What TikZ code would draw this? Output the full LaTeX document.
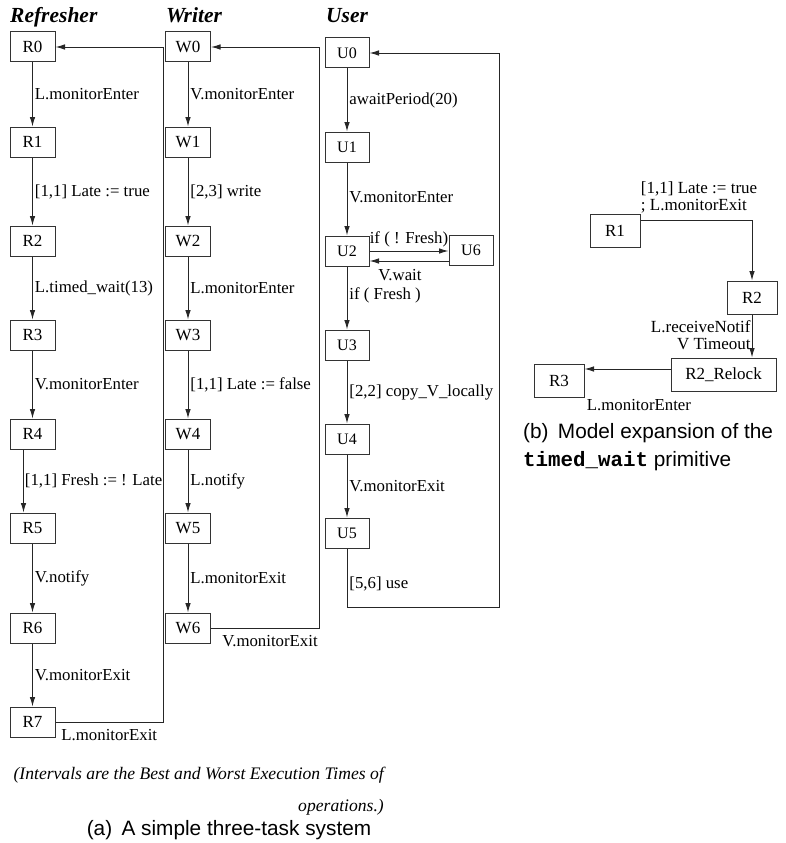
\documentclass[tikz,border=0pt]{standalone}
\usepackage{fontspec}
\setmainfont{Liberation Serif}
\setsansfont{Liberation Sans}
\setmonofont{Liberation Mono}
\usetikzlibrary{arrows.meta,calc}

\begin{document}
\begin{tikzpicture}[x=1pt,y=-1pt,
  state/.style={draw=black!80, line width=1pt, minimum width=45pt,
    minimum height=30pt, inner sep=0pt, font=\fontsize{17}{19}\selectfont},
  ustate/.style={state, minimum width=44pt, font=\fontsize{16}{18}\selectfont},
  bstate/.style={state, minimum width=50pt, minimum height=33pt},
  flow/.style={draw=black!85, line width=0.9pt, -{Latex[length=9.5pt,width=5.5pt]}},
  lbl/.style={font=\fontsize{16.8}{17}\selectfont, inner sep=2pt},
  task/.style={font=\fontsize{21.5}{24}\selectfont\bfseries\itshape,
    anchor=base west, inner sep=0pt},
  capt/.style={font=\sffamily\fontsize{20.8}{28}\selectfont, inner sep=0pt},
]
\useasboundingbox (0,0) rectangle (785,843);

% task titles
\node[task] (tR) at (10,23) {Refresher};
\node[task] (tW) at (166,23) {Writer};
\node[task] (tU) at (326,23) {User};

% Refresher states
\foreach \i/\y in {0/47,1/142,2/241,3/335,4/434,5/528,6/628,7/722}
  \node[state] (R\i) at (32.5,\y) {R\i};
% Writer states
\foreach \i/\y in {0/47,1/142,2/241,3/335,4/434,5/528,6/628}
  \node[state] (W\i) at (188,\y) {W\i};
% User states
\foreach \i/\y in {0/53,1/147,2/251,3/345,4/439,5/533}
  \node[ustate] (U\i) at (347,\y) {U\i};
\node[ustate] (U6) at (471,250) {U6};

% Refresher transitions
\draw[flow] (R0) -- node[lbl,right] {L.monitorEnter} (R1);
\draw[flow] (R1) -- node[lbl,right] {[1,1] Late := true} (R2);
\draw[flow] (R2) -- node[lbl,right] {L.timed\_wait(13)} (R3);
\draw[flow] (R3) -- node[lbl,right] {V.monitorEnter} (R4);
\draw[flow] ([xshift=-9pt]R4.south) -- node[lbl,right,inner sep=1pt] {[1,1] Fresh := ! Late} ([xshift=-9pt]R5.north);
\draw[flow] (R5) -- node[lbl,right] {V.notify} (R6);
\draw[flow] (R6) -- node[lbl,right] {V.monitorExit} (R7);
\coordinate (rback) at (163,0);
\draw[flow] (R7.east) -- node[lbl,below,yshift=-5pt] {L.monitorExit} (R7.east -| rback)
  -- (R0.east -| rback) -- (R0.east);

% Writer transitions
\draw[flow] (W0) -- node[lbl,right] {V.monitorEnter} (W1);
\draw[flow] (W1) -- node[lbl,right] {[2,3] write} (W2);
\draw[flow] (W2) -- node[lbl,right] {L.monitorEnter} (W3);
\draw[flow] (W3) -- node[lbl,right] {[1,1] Late := false} (W4);
\draw[flow] (W4) -- node[lbl,right] {L.notify} (W5);
\draw[flow] (W5) -- node[lbl,right] {L.monitorExit} (W6);
\coordinate (wback) at (319,0);
\draw[flow] (W6.east) -- node[lbl,below,xshift=5pt,yshift=-5pt] {V.monitorExit} (W6.east -| wback)
  -- (W0.east -| wback) -- (W0.east);

% User transitions
\draw[flow] (U0) -- node[lbl,right] {awaitPeriod(20)} (U1);
\draw[flow] (U1) -- node[lbl,right,yshift=2pt] {V.monitorEnter} (U2);
\draw[flow] (U2.east) -- node[lbl,above,inner sep=0.5pt,yshift=3pt] {if ( ! Fresh)} (U6.west |- U2.east);
\draw[flow] ([yshift=-10pt]U6.west |- U2.east) -- node[lbl,below,inner sep=3pt,xshift=-9pt,yshift=-5pt] {V.wait} ([yshift=-10pt]U2.east);
\draw[flow] (U2) -- node[lbl,right,yshift=3pt] {if ( Fresh )} (U3);
\draw[flow] (U3) -- node[lbl,right] {[2,2] copy\_V\_locally} (U4);
\draw[flow] (U4) -- node[lbl,right] {V.monitorExit} (U5);
\coordinate (uback) at (499,607);
\draw[flow] (U5.south) -- node[lbl,right,yshift=-6pt] {[5,6] use} (U5.south |- uback)
  -- (uback) -- (uback |- U0.east) -- (U0.east);

% expansion of timed_wait
\node[bstate] (bR1) at (615,230.5) {R1};
\node[bstate] (bR2) at (752,297.5) {R2};
\node[bstate, minimum width=105pt] (bRL) at (723.5,374.5) {R2\_Relock};
\node[bstate] (bR3) at (559,380.5) {R3};
\coordinate (relockrow) at (0,369);

\draw[flow] ([yshift=10.5pt]bR1.east) -- node[lbl,pos=0,anchor=south west,align=left,
    xshift=-2pt,yshift=4pt,font=\fontsize{17}{17}\selectfont]
  {[1,1] Late := true\\; L.monitorExit} ([yshift=10.5pt]bR1.east -| bR2.north) -- (bR2.north);
\draw[flow] (bR2.south) -- node[lbl,midway,left,align=right,inner sep=1pt,yshift=1pt,
    font=\fontsize{17}{17}\selectfont]
  {L.receiveNotif\\V Timeout} (bR2.south |- bRL.north);
\draw[flow] (bRL.west |- relockrow) -- node[lbl,pos=1,anchor=north west,yshift=-28pt]
  {L.monitorEnter} (bR3.east |- relockrow);

% captions
\node[font=\fontsize{17.6}{32}\selectfont\itshape, align=right, anchor=east, inner sep=0pt]
  (note) at (384,791) {(Intervals are the Best and Worst Execution Times of\\operations.)};
\node[capt] (capa) at (229,830) {(a)\hspace{0.45em}A simple three-task system};
\node[capt, anchor=west, align=left] (capb) at (523,447)
  {(b)\hspace{0.45em}Model expansion of the\\\texttt{\textbf{timed\_wait}} primitive};
\end{tikzpicture}
\end{document}
